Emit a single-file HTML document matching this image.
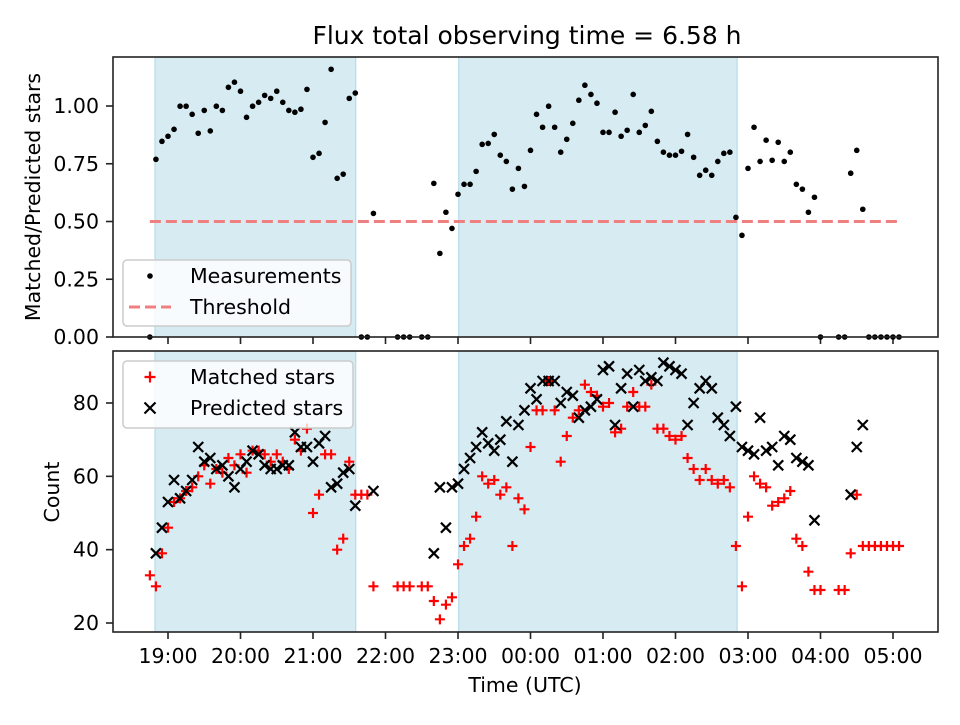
<!DOCTYPE html>
<html><head><meta charset="utf-8"><style>
body{margin:0;background:#fff}
svg{font-family:"DejaVu Sans","Liberation Sans",sans-serif}
</style></head><body>
<svg id="chart" width="960" height="720" xmlns="http://www.w3.org/2000/svg">
<rect width="960" height="720" fill="#fff"/>
<text x="527" y="44" font-size="25" text-anchor="middle">Flux total observing time = 6.58 h</text>
<g id="topPanel"></g>
<g id="botPanel"></g>
<text x="525" y="692" font-size="20.5" text-anchor="middle">Time (UTC)</text>
<text transform="translate(40,197) rotate(-90)" font-size="20.5" text-anchor="middle">Matched/Predicted stars</text>
<text transform="translate(59,492) rotate(-90)" font-size="20.5" text-anchor="middle">Count</text>
</svg>
<script>
// data: one slot every 5 minutes starting 18:45 UTC
const startHour = 18.75;
const ratio = [0,.769,.847,.869,.899,.999,.999,.964,.882,.981,.892,.999,.981,1.081,1.103,1.064,.951,.999,1.016,1.046,1.033,1.064,1.016,.981,.973,.986,1.072,.778,.795,.929,1.159,.687,.705,1.033,1.056,0,0,.535,null,null,null,0,0,0,null,0,0,.665,.362,.54,.47,.618,.661,.661,.717,.834,.838,.877,.787,.76,.64,.73,.652,.808,.964,.908,.999,.908,.80,.856,.925,1.025,1.09,1.05,1.012,.886,.886,.973,.869,.895,1.05,.886,.916,.977,.847,.80,.787,.787,.804,.877,.778,.70,.722,.70,.76,.795,.80,.518,.44,.73,.908,.76,.852,.765,.843,.76,.80,.661,.64,.54,.605,0,null,null,0,0,.709,.808,.553,0,0,0,0,0,0];
const matched = [33,30,39,46,53,54,56,57,60,63,58,62,61,65,63,66,61,67,67,66,64,66,64,62,70,67,73,50,55,66,66,40,43,64,55,55,55,30,null,null,null,30,30,30,null,30,30,26,21,25,27,36,41,43,49,60,58,59,55,57,41,54,51,68,78,78,86,78,64,71,76,78,85,83,82,79,80,72,73,79,83,79,79,85,73,73,71,70,71,65,62,59,62,59,58,59,57,41,30,49,60,58,57,52,53,54,56,43,41,34,29,29,null,null,29,29,39,55,41,41,41,41,41,41,41];
const predicted = [null,39,46,53,59,54,56,59,68,64,65,62,63,60,57,62,64,67,66,63,62,62,63,63,72,68,68,64,69,71,57,58,61,62,52,null,null,56,null,null,null,null,null,null,null,null,null,39,57,46,57,58,62,65,68,72,69,67,70,75,64,74,78,84,81,86,86,86,80,83,82,76,78,79,81,89,90,74,84,88,79,89,86,87,86,91,90,89,88,74,80,84,86,84,76,74,71,79,68,67,66,76,67,68,63,71,70,65,64,63,48,null,null,null,null,null,55,68,74,null,null,null,null,null,null];
const threshold = 0.5;
const shadeStart = [18.82, 23.01];
const shadeEnd = [21.59, 26.85];
const xTickLabels = ["19:00","20:00","21:00","22:00","23:00","00:00","01:00","02:00","03:00","04:00","05:00"];
const topTicks = [0,0.25,0.5,0.75,1.0];
const botTicks = [20,40,60,80];

const NS="http://www.w3.org/2000/svg";
const X0=113,X1=938;
const xs=h=>168+(h-19)*72.5;
const yTop=v=>337-v*231;
const yBot=c=>623-(c-20)*220/60;
function mk(tag,attrs,parent){const e=document.createElementNS(NS,tag);for(const k in attrs)e.setAttribute(k,attrs[k]);parent.appendChild(e);return e;}
const topG=document.getElementById('topPanel'),botG=document.getElementById('botPanel');

function panel(g,y0,y1,yf,ticks,fmt,labelsX){
  for(let k=0;k<shadeStart.length;k++){
    const r=mk('rect',{x:xs(shadeStart[k]),y:y0,width:xs(shadeEnd[k])-xs(shadeStart[k]),height:y1-y0,fill:'#add8e6','fill-opacity':0.5,stroke:'#add8e6'},g);
    
    
  }
  ticks.forEach(t=>{
    const y=yf(t);
    const l=mk('line',{x1:X0-7,x2:X0,y1:y,y2:y,stroke:'#222','stroke-width':1.6},g);
    
    
    const tx=mk('text',{x:X0-14,y:y+7,'font-size':20.5,'text-anchor':'end'},g);
    tx.textContent=fmt(t);
    
    
  });
  xTickLabels.forEach((s,i)=>{
    const x=xs(19+i);
    const l=mk('line',{x1:x,x2:x,y1:y1,y2:y1+7,stroke:'#222','stroke-width':1.6},g);
    
    
    if(labelsX){
      const tx=mk('text',{x:x,y:y1+31,'font-size':20.5,'text-anchor':'middle'},g);
      tx.textContent=s;
      
      
    }
  });
}
function frame(g,y0,y1){
  const f=mk('rect',{x:X0,y:y0,width:X1-X0,height:y1-y0,fill:'none',stroke:'#222','stroke-width':1.6},g);
  
  
}

// top panel
panel(topG,57,337,yTop,topTicks,t=>t.toFixed(2),false);
const hx0=xs(startHour),hx1=xs(startHour+(ratio.length-1)/12);
const th=mk('line',{x1:hx0,x2:hx1,y1:yTop(threshold),y2:yTop(threshold),stroke:'#f08080','stroke-width':3,'stroke-dasharray':'11,5'},topG);


ratio.forEach((v,i)=>{
  if(v===null)return;
  const c=mk('circle',{cx:xs(startHour+i/12),cy:yTop(v),r:2.8,fill:'#000'},topG);
  
  
});
frame(topG,57,337);

// bottom panel
panel(botG,351,632,yBot,botTicks,t=>String(t),true);
matched.forEach((v,i)=>{
  if(v===null)return;
  const x=xs(startHour+i/12),y=yBot(v);
  const p=mk('path',{d:`M${x-5},${y}H${x+5}M${x},${y-5}V${y+5}`,stroke:'#f00','stroke-width':2.2},botG);
  
  
});
predicted.forEach((v,i)=>{
  if(v===null)return;
  const x=xs(startHour+i/12),y=yBot(v);
  const p=mk('path',{d:`M${x-5},${y-5}L${x+5},${y+5}M${x-5},${y+5}L${x+5},${y-5}`,stroke:'#000','stroke-width':2.2},botG);
  
  
});
frame(botG,351,632);

// legends
function legend(g,x,y,w,h,items,name){
  const lg=mk('g',{},g);
  
  
  mk('rect',{x:x,y:y,width:w,height:h,rx:4,fill:'#fff','fill-opacity':0.8,stroke:'#ccc','stroke-width':1.5},lg);
  items.forEach((it,k)=>{
    const cy=y+16+k*31, mx=x+27;
    if(it.kind==='dot')mk('circle',{cx:mx,cy:cy,r:2.8,fill:'#000'},lg);
    if(it.kind==='dash')mk('line',{x1:mx-21,x2:mx+21,y1:cy,y2:cy,stroke:'#f08080','stroke-width':3,'stroke-dasharray':'11,5'},lg);
    if(it.kind==='plus')mk('path',{d:`M${mx-5.5},${cy}H${mx+5.5}M${mx},${cy-5.5}V${cy+5.5}`,stroke:'#f00','stroke-width':2.2},lg);
    if(it.kind==='x')mk('path',{d:`M${mx-5.5},${cy-5.5}L${mx+5.5},${cy+5.5}M${mx-5.5},${cy+5.5}L${mx+5.5},${cy-5.5}`,stroke:'#000','stroke-width':2.2},lg);
    const t=mk('text',{x:x+67,y:cy+7,'font-size':20.5},lg);
    t.textContent=it.label;
    
    
  });
}
legend(topG,123,260,228,66,[{kind:'dot',label:'Measurements'},{kind:'dash',label:'Threshold'}],'top-legend');
legend(botG,123,361,230,67,[{kind:'plus',label:'Matched stars'},{kind:'x',label:'Predicted stars'}],'bottom-legend');
</script>
</body></html>
